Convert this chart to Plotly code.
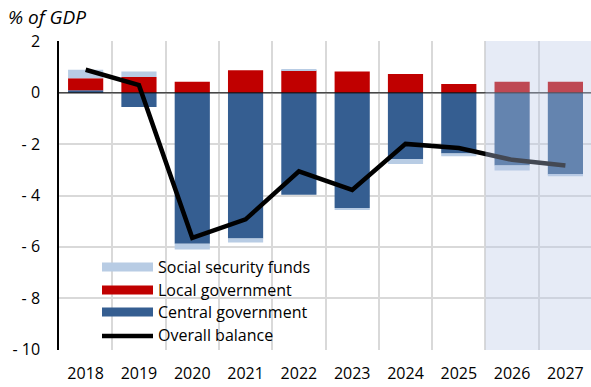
import plotly.graph_objects as go

# General government balance by sub-sector, % of GDP
years = ["2018", "2019", "2020", "2021", "2022", "2023", "2024", "2025", "2026", "2027"]
central_gov = [0.10, -0.55, -5.88, -5.68, -3.97, -4.49, -2.58, -2.36, -2.83, -3.18]
local_gov = [0.47, 0.62, 0.43, 0.88, 0.87, 0.83, 0.73, 0.34, 0.43, 0.43]
social_security = [0.33, 0.21, -0.22, -0.15, 0.05, -0.07, -0.19, -0.11, -0.20, -0.07]
overall_balance = [0.90, 0.30, -5.65, -4.93, -3.06, -3.78, -1.99, -2.15, -2.61, -2.83]

y_ticks = [2, 0, -2, -4, -6, -8, -10]
y_tick_text = ["2", "0", "- 2", "- 4", "- 6", "- 8", "- 10"]
forecast_start = 7.5  # boundary between 2025 and 2026

C_CENTRAL = "#355E91"
C_LOCAL = "#C00000"
C_SSF = "#B8CCE4"
FONT = "Open Sans"
FS = 16

W, H = 591, 387
L, R, T, B = 59, 0, 41, 37


def px_x(p):
    return (p - L) / (W - L - R)


def px_y(p):
    return (H - B - p) / (H - T - B)


fig = go.Figure()
fig.add_trace(go.Bar(x=years, y=central_gov, marker_color=C_CENTRAL, marker_line_width=0,
                     name="Central government"))
fig.add_trace(go.Bar(x=years, y=local_gov, marker_color=C_LOCAL, marker_line_width=0,
                     name="Local government"))
fig.add_trace(go.Bar(x=years, y=social_security, marker_color=C_SSF, marker_line_width=0,
                     name="Social security funds"))
fig.add_trace(go.Scatter(x=years, y=overall_balance, mode="lines",
                         line=dict(color="black", width=4.5), name="Overall balance"))

shapes = [
    # zero line over the bars
    dict(type="line", xref="paper", yref="y", x0=0, x1=1, y0=0, y1=0,
         line=dict(color="black", width=1), layer="above"),
    # forecast shading
    dict(type="rect", xref="x", yref="paper", x0=forecast_start, x1=10, y0=0, y1=1,
         fillcolor="rgba(185,200,230,0.36)", line_width=0, layer="above"),
    # legend background
    dict(type="rect", xref="paper", yref="paper", x0=px_x(60), x1=px_x(350),
         y0=px_y(345), y1=px_y(256), fillcolor="white", line_width=0, layer="between"),
]

annotations = [
    dict(text="<i>% of GDP</i>", xref="paper", yref="paper", x=px_x(6), y=px_y(17),
         xanchor="left", yanchor="middle", showarrow=False,
         font=dict(family=FONT, size=19, color="black")),
]

# legend entries drawn as swatches + labels
legend_items = [
    ("Social security funds", C_SSF, 267),
    ("Local government", C_LOCAL, 290),
    ("Central government", C_CENTRAL, 312),
]
for label, color, yc in legend_items:
    shapes.append(dict(type="rect", xref="paper", yref="paper", x0=px_x(102), x1=px_x(153),
                       y0=px_y(yc + 4.5), y1=px_y(yc - 4.5), fillcolor=color, line_width=0,
                       layer="above"))
    annotations.append(dict(text=label, xref="paper", yref="paper", x=px_x(156), y=px_y(yc),
                            xanchor="left", yanchor="middle", showarrow=False,
                            font=dict(family=FONT, size=FS, color="black")))
shapes.append(dict(type="line", xref="paper", yref="paper", x0=px_x(102), x1=px_x(153),
                   y0=px_y(336), y1=px_y(336), line=dict(color="black", width=4.5),
                   layer="above"))
annotations.append(dict(text="Overall balance", xref="paper", yref="paper", x=px_x(156),
                        y=px_y(335), xanchor="left", yanchor="middle", showarrow=False,
                        font=dict(family=FONT, size=FS, color="black")))

fig.update_layout(
    width=W, height=H,
    margin=dict(l=L, r=R, t=T, b=B),
    paper_bgcolor="white", plot_bgcolor="white",
    barmode="relative", bargap=0.34,
    showlegend=False,
    font=dict(family=FONT, size=FS, color="black"),
    shapes=shapes, annotations=annotations,
)
fig.update_xaxes(
    type="category", range=[-0.5, 9.48], tickson="boundaries",
    showgrid=True, gridcolor="#D9D9D9", gridwidth=2,
    ticks="", showline=False, ticklabelstandoff=12,
    tickfont=dict(family=FONT, size=FS),
)
fig.update_yaxes(
    range=[-10.02, 2.02], tickvals=y_ticks, ticktext=y_tick_text,
    showgrid=True, gridcolor="#D9D9D9", gridwidth=2,
    zeroline=False, showline=True, linecolor="black", linewidth=1.5,
    ticks="", ticklabelstandoff=14, tickfont=dict(family=FONT, size=FS),
)

fig.write_html("out.html")
